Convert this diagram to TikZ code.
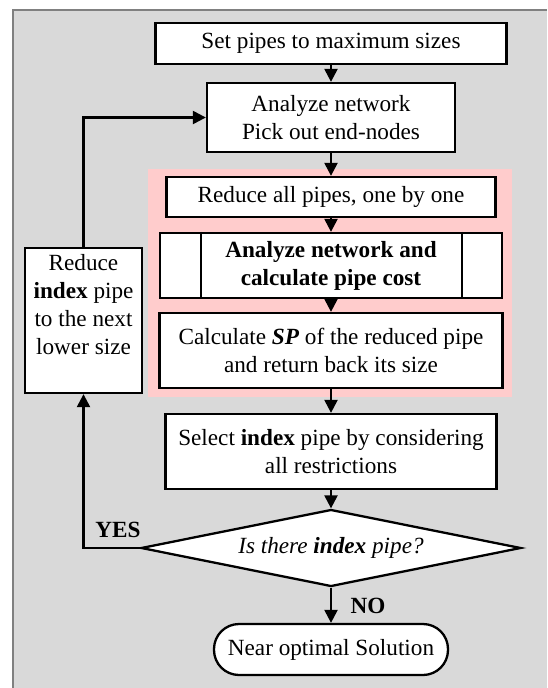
\documentclass[tikz,border=0pt]{standalone}
\usepackage{fontspec}
\setmainfont{Liberation Serif}
\usepackage{tikz}
\usetikzlibrary{positioning}
\usetikzlibrary{shapes,shapes.geometric,arrows.meta}
\definecolor{panelgray}{RGB}{217,217,217}
\definecolor{panelline}{RGB}{128,128,128}
\definecolor{loopbg}{RGB}{255,204,204}
\tikzstyle{novertex} = [draw=none, fill=none, text centered, align=center]
\tikzstyle{process} = [rectangle, draw, fill=white, line width=2.3pt, text centered, align=center, inner sep=2pt]
\tikzstyle{decision} = [diamond, draw, fill=white, line width=2.3pt, text centered, aspect=4.9, inner sep=0pt]
\tikzstyle{terminal} = [rectangle, rounded corners=25pt, draw, fill=white, line width=2.3pt, text centered]
\tikzstyle{flow} = [draw, line width=2.3pt, ->]

\begin{document}
\begin{tikzpicture}[x=1pt, y=-1pt, >={Triangle[length=13pt,width=13pt]},
  font=\fontsize{23.2}{28}\selectfont]
	% panel
	\useasboundingbox (0,0) rectangle (547,688);
	\fill [panelgray] (12,9) rectangle (547,688);
	\draw [panelline, line width=2pt] (13,688) -- (13,10) -- (547,10);
	\fill [loopbg] (148,169) rectangle (512,397);
	% place nodes
	\node [process, minimum width=351, minimum height=41] (B1) at (331,43.5) {Set pipes to maximum sizes};
	\node [process, below of=B1, node distance=74pt, minimum width=248, minimum height=69] (B2) {Analyze network\\Pick out end-nodes};
	\node [process, below of=B2, node distance=79.5pt, minimum width=329, minimum height=40] (B3) {Reduce all pipes, one by one};
	\node [process, below of=B3, node distance=68.5pt, minimum width=342, minimum height=65] (B4) {\textbf{Analyze network and}\\\textbf{calculate pipe cost}};
	\node [process, below of=B4, node distance=85pt, minimum width=343, minimum height=75] (B5) {Calculate \textbf{\textit{SP}} of the reduced pipe\\and return back its size};
	\node [process, below of=B5, node distance=101pt, minimum width=331, minimum height=75] (B6) {Select \textbf{index} pipe by considering\\all restrictions};
	\node [decision, below of=B6, node distance=96.5pt, minimum width=380, minimum height=77] (D) {\textit{Is there \textbf{index} pipe?}};
	\node [terminal, below of=D, node distance=101.5pt, minimum width=234, minimum height=51] (T) {Near optimal Solution};
	\node [process, minimum width=117, minimum height=145] (L) at (83.5,320.5) {};
	\node [novertex, below=4pt of L.north] (Ltext) {Reduce\\\textbf{index} pipe\\to the next\\lower size};
	\draw [line width=2.3pt] ([xshift=42pt]B4.north west) -- ([xshift=42pt]B4.south west);
	\draw [line width=2.3pt] ([xshift=-41pt]B4.north east) -- ([xshift=-41pt]B4.south east);
	% labels
	\node [novertex] (yes) at (118,530) {\textbf{YES}};
	\node [novertex] (no) at (368,606) {\textbf{NO}};

	% draw edges
	\path [flow] (B1) -- (B2);
	\path [flow] (B2) -- (B3);
	\path [flow] (B3) -- (B4);
	\path [flow] (B4) -- (B5);
	\path [flow] (B5) -- (B6);
	\path [flow] (B6) -- (D);
	\path [flow] (D) -- (T);
	\path [flow] (D.west) -| (L.south);
	\path [flow] (L.north) |- (B2.west);
\end{tikzpicture}
\end{document}
